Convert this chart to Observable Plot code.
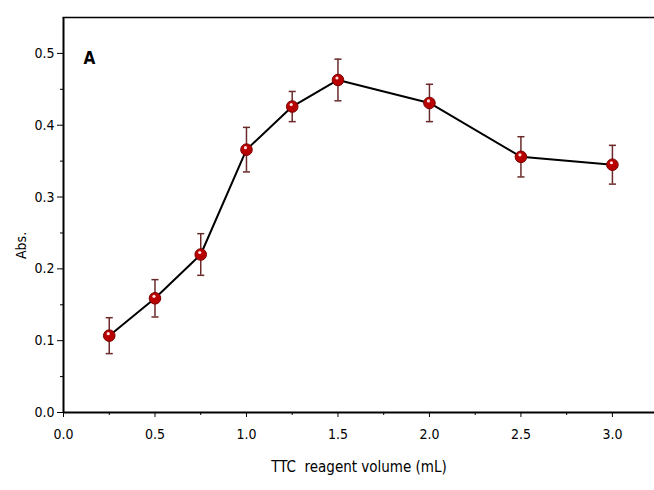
<!DOCTYPE html>
<html><head><meta charset="utf-8">
<script src="https://cdn.jsdelivr.net/npm/d3@7"></script>
<script src="https://cdn.jsdelivr.net/npm/@observablehq/plot@0.6"></script>
<style>
body{margin:0;background:#fff;}
#chart{position:relative;width:654px;height:490px;}
</style></head>
<body><div id="chart"></div>
<script>
const volumes = [0.25, 0.5, 0.75, 1.0, 1.25, 1.5, 2.0, 2.5, 3.0];
const absorbance = [0.107, 0.159, 0.220, 0.366, 0.426, 0.463, 0.431, 0.356, 0.345];
const errors = [0.025, 0.026, 0.029, 0.031, 0.021, 0.029, 0.026, 0.028, 0.027];
const xTicks = [0.0, 0.5, 1.0, 1.5, 2.0, 2.5, 3.0];
const xMinor = [0.25, 0.75, 1.25, 1.75, 2.25, 2.75];
const yTicks = [0.0, 0.1, 0.2, 0.3, 0.4, 0.5];
const yMinor = [0.05, 0.15, 0.25, 0.35, 0.45];

const data = volumes.map((v, i) => ({x: v, y: absorbance[i], lo: absorbance[i] - errors[i], hi: absorbance[i] + errors[i]}));

const capSymbol = {draw(ctx, size){ const w = Math.sqrt(size); ctx.moveTo(-w/2, 0); ctx.lineTo(w/2, 0); }};
const font = "'Liberation Sans Narrow', 'DejaVu Sans Condensed', Arial, sans-serif";

const plot = Plot.plot({
  width: 654, height: 490,
  marginLeft: 63, marginTop: 17, marginBottom: 78, marginRight: 0,
  style: {fontFamily: font, fontSize: "14px", color: "#000", background: "#fff"},
  x: {domain: [0, 3.23], label: null},
  y: {domain: [0, 0.55], label: null},
  marks: [
    Plot.axisX({ticks: xTicks, tickFormat: d3.format(".1f"), tickSize: 5, tickPadding: 12, fontSize: 14, label: null}),
    Plot.axisX({ticks: xMinor, tickSize: 3, tickFormat: () => "", label: null}),
    Plot.axisY({ticks: yTicks, tickFormat: d3.format(".1f"), tickSize: 6, tickPadding: 3, fontSize: 14, label: null}),
    Plot.axisY({ticks: yMinor, tickSize: 3, tickFormat: () => "", label: null}),
    Plot.ruleY([0], {stroke: "#000", strokeWidth: 2}),
    Plot.ruleX([0], {stroke: "#000", strokeWidth: 2}),
    Plot.frame({anchor: "top", stroke: "#000", strokeWidth: 1.5}),
    Plot.line(data, {x: "x", y: "y", stroke: "#000", strokeWidth: 2}),
    Plot.ruleX(data, {x: "x", y1: "lo", y2: "hi", stroke: "#6b2a2a", strokeWidth: 1.5}),
    Plot.dot(data, {x: "x", y: "lo", symbol: capSymbol, r: 4, stroke: "#6b2a2a", strokeWidth: 1.5}),
    Plot.dot(data, {x: "x", y: "hi", symbol: capSymbol, r: 4, stroke: "#6b2a2a", strokeWidth: 1.5}),
    Plot.dot(data, {x: "x", y: "y", r: 5.8, fill: "#b80000", stroke: "#7a0000", strokeWidth: 1}),
    Plot.dot(data, {x: "x", y: "y", r: 1.6, fill: "#ffdede", stroke: null, dx: -1, dy: -2}),
    Plot.text(["A"], {frameAnchor: "top-left", dx: 20, dy: 34, fontWeight: "bold", fontSize: 17, textAnchor: "start"}),
    Plot.text(["TTC  reagent volume (mL)"], {frameAnchor: "bottom", dy: 59, fontSize: 15}),
    Plot.text(["Abs."], {frameAnchor: "left", dx: -42, dy: 44, rotate: -90, fontSize: 14})
  ]
});
document.getElementById("chart").appendChild(plot);
</script></body></html>
